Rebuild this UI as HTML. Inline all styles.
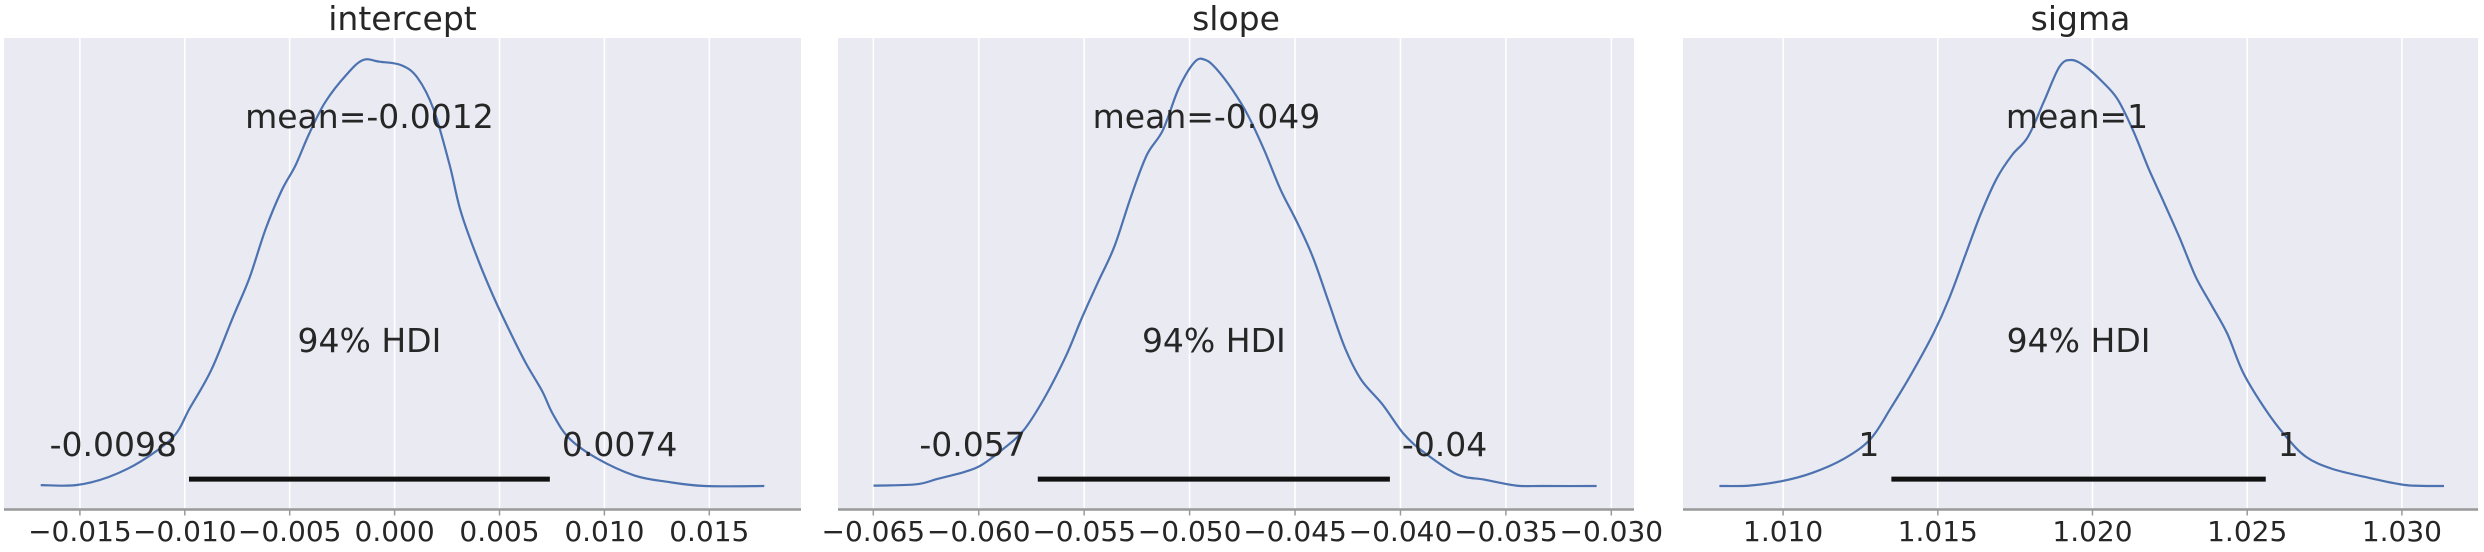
<!DOCTYPE html>
<html><head><meta charset="utf-8"><style>
html,body{margin:0;padding:0;background:#fff;}
svg{display:block;font-family:"DejaVu Sans","Liberation Sans",sans-serif;}
</style></head><body>
<svg id="chart" width="2484" height="552" viewBox="0 0 2484 552" xmlns="http://www.w3.org/2000/svg"></svg>
<script>
// ---- data ----
const titles = ["intercept", "slope", "sigma"];
const meanLabels = ["mean=-0.0012", "mean=-0.049", "mean=1"];
const means = [-0.0012, -0.0492, 1.0195];
const hdiLow = [-0.0098, -0.0572, 1.0135];
const hdiHigh = [0.0074, -0.0405, 1.0256];
const hdiLowLabels = ["-0.0098", "-0.057", "1"];
const hdiHighLabels = ["0.0074", "-0.04", "1"];
const tickValues0 = [-0.015, -0.010, -0.005, 0.000, 0.005, 0.010, 0.015];
const tickLabels0 = ["\u22120.015", "\u22120.010", "\u22120.005", "0.000", "0.005", "0.010", "0.015"];
const tickValues1 = [-0.065, -0.060, -0.055, -0.050, -0.045, -0.040, -0.035, -0.030];
const tickLabels1 = ["\u22120.065", "\u22120.060", "\u22120.055", "\u22120.050", "\u22120.045", "\u22120.040", "\u22120.035", "\u22120.030"];
const tickValues2 = [1.010, 1.015, 1.020, 1.025, 1.030];
const tickLabels2 = ["1.010", "1.015", "1.020", "1.025", "1.030"];
const kdeX0 = [-0.01687,-0.01519,-0.01364,-0.01209,-0.01054,-0.00977,-0.00873,-0.00770,-0.00692,-0.00615,-0.00538,-0.00473,-0.00408,-0.00331,-0.00227,-0.00150,-0.00072,0.00031,0.00108,0.00186,0.00263,0.00315,0.00393,0.00470,0.00548,0.00625,0.00703,0.00754,0.00832,0.00961,0.01142,0.01297,0.01478,0.01762];
const kdeY0 = [0.002,0.002,0.021,0.058,0.116,0.182,0.273,0.397,0.488,0.603,0.694,0.752,0.826,0.901,0.967,1.0,0.996,0.988,0.959,0.884,0.752,0.645,0.537,0.446,0.364,0.289,0.223,0.169,0.112,0.066,0.025,0.010,0.0,0.0];
const kdeX1 = [-0.06499,-0.06296,-0.06194,-0.06067,-0.05991,-0.05889,-0.05788,-0.05686,-0.05584,-0.05508,-0.05432,-0.05356,-0.05279,-0.05203,-0.05127,-0.05051,-0.04975,-0.04924,-0.04873,-0.04797,-0.04721,-0.04644,-0.04568,-0.04492,-0.04416,-0.0434,-0.04263,-0.04187,-0.04086,-0.03984,-0.03883,-0.0373,-0.03603,-0.03451,-0.03324,-0.0307];
const kdeY1 = [0.001,0.004,0.017,0.033,0.048,0.085,0.130,0.209,0.308,0.398,0.481,0.563,0.678,0.777,0.835,0.934,0.996,1.0,0.979,0.930,0.868,0.786,0.695,0.621,0.538,0.431,0.324,0.250,0.192,0.122,0.077,0.027,0.015,0.001,0.0,0.0];
const kdeX2 = [1.00794,1.00891,1.00993,1.01095,1.01197,1.01282,1.01349,1.01417,1.01485,1.01536,1.01587,1.01638,1.01689,1.0174,1.01791,1.01842,1.01893,1.01932,1.01978,1.02029,1.0208,1.02131,1.02182,1.02233,1.02283,1.02335,1.02386,1.02436,1.02487,1.02555,1.02623,1.02691,1.02776,1.02895,1.03014,1.03136];
const kdeY2 = [0.0,0.001,0.011,0.031,0.064,0.110,0.184,0.266,0.357,0.439,0.538,0.637,0.720,0.777,0.819,0.901,0.984,1.0,0.984,0.951,0.909,0.835,0.744,0.662,0.580,0.489,0.423,0.357,0.266,0.184,0.118,0.068,0.040,0.019,0.002,0.0];

// ---- layout (not data) ----
const panels = [
  {left:4, right:801, cVal:0.0, cPx:394.6, ppu:20980, ticks:tickValues0, labels:tickLabels0, kx:kdeX0, ky:kdeY0},
  {left:838, right:1634, cVal:-0.05, cPx:1189.6, ppu:21086, ticks:tickValues1, labels:tickLabels1, kx:kdeX1, ky:kdeY1},
  {left:1683, right:2478, cVal:1.02, cPx:2092.5, ppu:30940, ticks:tickValues2, labels:tickLabels2, kx:kdeX2, ky:kdeY2}
];
const TOP = 38, AXIS_Y = 509.5, BASE = 486, PEAK = 60;
const yScale = d => BASE - d * (BASE - PEAK);
const svg = document.getElementById('chart');
const NS = 'http://www.w3.org/2000/svg';
function mk(tag, attrs, parent) {
  const e = document.createElementNS(NS, tag);
  for (const k in attrs) e.setAttribute(k, attrs[k]);
  (parent || svg).appendChild(e);
  return e;
}
function smoothPath(pts) {
  let d = 'M' + pts[0][0].toFixed(1) + ',' + pts[0][1].toFixed(1);
  for (let i = 0; i < pts.length - 1; i++) {
    const p0 = pts[Math.max(i - 1, 0)], p1 = pts[i], p2 = pts[i + 1], p3 = pts[Math.min(i + 2, pts.length - 1)];
    const c1x = p1[0] + (p2[0] - p0[0]) / 6, c1y = p1[1] + (p2[1] - p0[1]) / 6;
    const c2x = p2[0] - (p3[0] - p1[0]) / 6, c2y = p2[1] - (p3[1] - p1[1]) / 6;
    d += 'C' + c1x.toFixed(1) + ',' + c1y.toFixed(1) + ' ' + c2x.toFixed(1) + ',' + c2y.toFixed(1) + ' ' + p2[0].toFixed(1) + ',' + p2[1].toFixed(1);
  }
  return d;
}
panels.forEach((p, i) => {
  const xs = v => p.cPx + (v - p.cVal) * p.ppu;
  const g = mk('g', {});
  
  
  const bg = mk('rect', {x:p.left, y:TOP, width:p.right - p.left, height:AXIS_Y - TOP, fill:'#eaeaf2'}, g);
  
  
  p.ticks.forEach((t, j) => {
    const x = xs(t);
    const gl = mk('line', {x1:x, x2:x, y1:TOP, y2:AXIS_Y, stroke:'#ffffff', 'stroke-width':1.6}, g);
    
    
    const tk = mk('line', {x1:x, x2:x, y1:AXIS_Y, y2:AXIS_Y + 6, stroke:'#999999', 'stroke-width':1.5}, g);
    
    
    const tl = mk('text', {x:x, y:541, 'text-anchor':'middle', 'font-size':28, fill:'#262626'}, g);
    tl.textContent = p.labels[j];
    
    
  });
  const ax = mk('line', {x1:p.left, x2:p.right, y1:AXIS_Y, y2:AXIS_Y, stroke:'#999999', 'stroke-width':2.5}, g);
  
  
  const pts = p.kx.map((v, j) => [xs(v), yScale(p.ky[j])]);
  const path = mk('path', {d:smoothPath(pts), fill:'none', stroke:'#4c72b0', 'stroke-width':2.2, 'stroke-linejoin':'round'}, g);
  
  
  const by = yScale(0.016);
  const bar = mk('line', {x1:xs(hdiLow[i]), x2:xs(hdiHigh[i]), y1:by, y2:by, stroke:'#111111', 'stroke-width':5}, g);
  
  
  const lo = mk('text', {x:xs(hdiLow[i]) - 12, y:456, 'text-anchor':'end', 'font-size':33, fill:'#262626'}, g);
  lo.textContent = hdiLowLabels[i];
  
  
  const hi = mk('text', {x:xs(hdiHigh[i]) + 12, y:456, 'text-anchor':'start', 'font-size':33, fill:'#262626'}, g);
  hi.textContent = hdiHighLabels[i];
  
  
  const hd = mk('text', {x:xs((hdiLow[i] + hdiHigh[i]) / 2), y:352, 'text-anchor':'middle', 'font-size':33, fill:'#262626'}, g);
  hd.textContent = '94% HDI';
  
  
  const mn = mk('text', {x:xs(means[i]), y:128, 'text-anchor':'middle', 'font-size':33, fill:'#262626'}, g);
  mn.textContent = meanLabels[i];
  
  
  const tt = mk('text', {x:(p.left + p.right) / 2, y:30, 'text-anchor':'middle', 'font-size':33, fill:'#262626'}, g);
  tt.textContent = titles[i];
  
  
});
</script>
</body></html>
